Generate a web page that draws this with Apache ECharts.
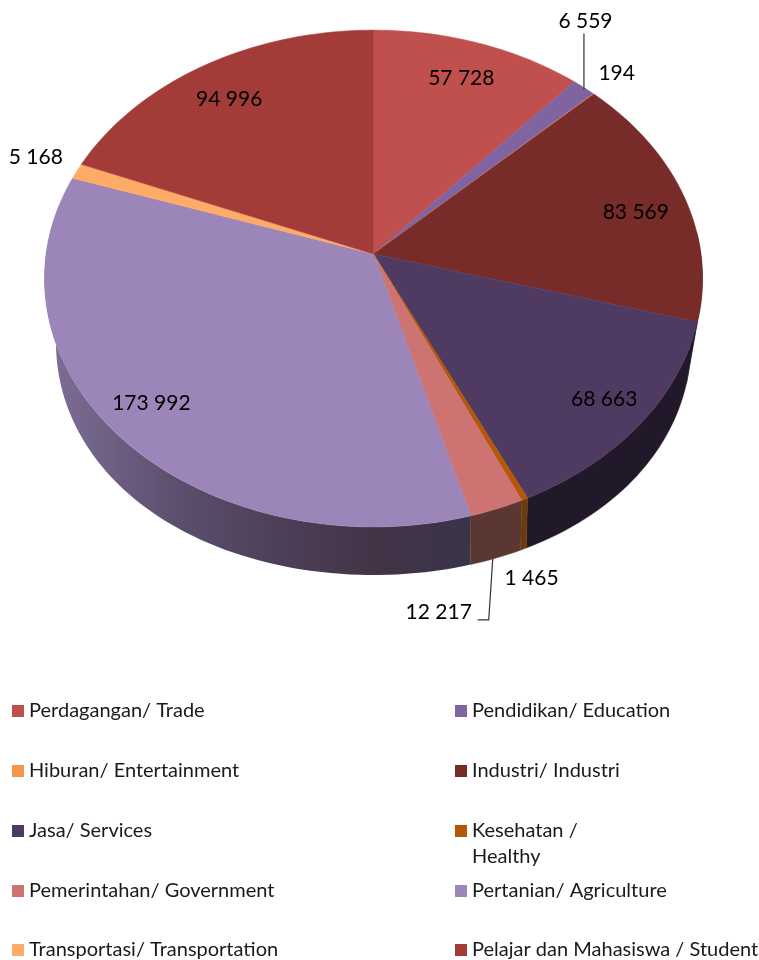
<!DOCTYPE html>
<html><head><meta charset="utf-8">
<style>html,body{margin:0;padding:0;background:#fff}#c{width:759px;height:960px}</style>
<script src="https://cdn.jsdelivr.net/npm/echarts@6/dist/echarts.min.js"></script>
</head><body><div id="c"></div>
<script>
// ---- data ----
const categories = ['Perdagangan/ Trade','Pendidikan/ Education','Hiburan/ Entertainment','Industri/ Industri','Jasa/ Services','Kesehatan /\nHealthy','Pemerintahan/ Government','Pertanian/ Agriculture','Transportasi/ Transportation','Pelajar dan Mahasiswa / Student'];
const values = [57728,6559,194,83569,68663,1465,12217,173992,5168,94996];
const valueLabels = ['57 728','6 559','194','83 569','68 663','1 465','12 217','173 992','5 168','94 996'];

// ---- styles ----
const faceColors = ['#c0504d','#8064a2','#f79646','#772c2a','#4f3b62','#b65708','#cd7371','#9c85b8','#fdab66','#a33b39'];
const legendColors = ['#c0504d','#8064a2','#f79646','#772c2a','#4d3b62','#b65708','#cd7371','#9c85b8','#fdab66','#a33b39'];
const wallColors = {4:'#211829',5:'#6c3a0b',6:'#5b3732'};
const agriWall = {type:'linear',global:true,x:50,y:0,x2:470,y2:0,colorStops:[
  {offset:0,color:'#7e6e97'},{offset:.3,color:'#5c4f6d'},{offset:.55,color:'#4d3f58'},{offset:.78,color:'#433347'},{offset:1,color:'#3a3449'}]};
const FONT = 'Lato, Carlito, sans-serif';

// ---- projection of the disc (perspective: near edge is larger) ----
const CX=373.5, CY=254, A=327.4, B=246, K=0.0986;
const proj=(deg,r)=>{const t=deg*Math.PI/180, X=r*Math.sin(t), Y=r*Math.cos(t), d=1+K*Y;
  return [CX+A*X/d, CY-B*Y/d];};
const lower=p=>{const o=p[0]-CX, q=o/329;
  return [CX+o*(1-0.035*q*q), 343+0.934*(p[1]-278.5)];};

const total=values.reduce((a,b)=>a+b,0);
const starts=[];values.reduce((acc,v,i)=>{starts[i]=acc;return acc+v;},0);
const ang=v=>v/total*360;

// label placement: inner labels by radius, outer labels by offset from the rim
const labelPlace = {
  0:{r:.82,dx:0,dy:0},3:{r:.83,dx:4,dy:7},4:{r:.86,dx:3,dy:1},7:{r:.85,dx:-8,dy:-4},9:{r:.82,dx:-4,dy:2},
  1:{r:1,dx:1.5,dy:-66},2:{r:1,dx:23,dy:-21},8:{r:1,dx:-41,dy:-14},5:{r:1,dx:7,dy:79},6:{r:1,dx:-58,dy:103}
};
const leaders = {
  1:[[0,-54],[0,2]],
  6:[[-19,111],[-8,111],[-4,50]]
};

function renderItem(params){
  const i=params.seriesIndex, a0=ang(starts[i]), a1=a0+ang(values[i]);
  const children=[];
  const arc=[];const n=Math.max(2,Math.ceil((a1-a0)/1.5));
  for(let j=0;j<=n;j++) arc.push(a0+(a1-a0)*j/n);
  // side wall
  const w0=Math.max(a0,85), w1=Math.min(a1,282);
  if(w1>w0){
    const top=[];const m=Math.max(2,Math.ceil((w1-w0)/1.5));
    for(let j=0;j<=m;j++) top.push(proj(w0+(w1-w0)*j/m,1));
    const pts=top.concat(top.slice().reverse().map(lower));
    const fill=i===7?agriWall:(wallColors[i]||'#3a2a40');
    children.push({type:'polygon',z2:1,shape:{points:pts},style:{fill:fill,stroke:i===7?null:fill,lineWidth:.4}});
  }
  // top face
  const face=[proj(0,0)].concat(arc.map(d=>proj(d,1)));
  children.push({type:'polygon',z2:2,shape:{points:face},style:{fill:faceColors[i],stroke:faceColors[i],lineWidth:.5}});
  // label
  const mid=(a0+a1)/2, lp=labelPlace[i], p=proj(mid,lp.r);
  children.push({type:'text',z2:5,style:{text:valueLabels[i],x:p[0]+lp.dx,y:p[1]+lp.dy,fill:'#000',
    fontFamily:FONT,fontSize:21,align:'center',verticalAlign:'middle'}});
  if(leaders[i]){
    const e=proj(mid,1);
    children.push({type:'polyline',z2:4,shape:{points:leaders[i].map(o=>[e[0]+o[0],e[1]+o[1]])},
      style:{fill:null,stroke:'#333',lineWidth:1.2}});
  }
  return {type:'group',children};
}

const legendText={fontFamily:FONT,fontSize:20,color:'#1a1a1a',lineHeight:20};
const legendBase={orient:'vertical',icon:'rect',itemWidth:12,itemHeight:12,padding:0,selectedMode:false,align:'left',textStyle:legendText,
  formatter:n=>n.includes('\n')?'\n'+n:n};
const pick=ids=>ids.map(k=>categories[k]);
const legendAt=(left,top,ids,extra)=>Object.assign({},legendBase,{left,top,itemGap:40,data:pick(ids)},extra||{});

const chart=echarts.init(document.getElementById('c'),null,{renderer:'canvas'});
chart.setOption({
  animation:false,
  backgroundColor:'#fff',
  legend:[
    legendAt(12,701,[0,2,4,6]),
    legendAt(12,940,[8]),
    legendAt(455,701,[1,3]),
    legendAt(455,792,[5],{textStyle:Object.assign({},legendText,{lineHeight:26})}),
    legendAt(455,881,[7]),
    legendAt(455,940,[9])
  ],
  series:categories.map((name,i)=>({
    type:'custom',name,coordinateSystem:'none',silent:true,
    itemStyle:{color:legendColors[i]},
    data:[[values[i]]],renderItem
  }))
});
</script></body></html>
